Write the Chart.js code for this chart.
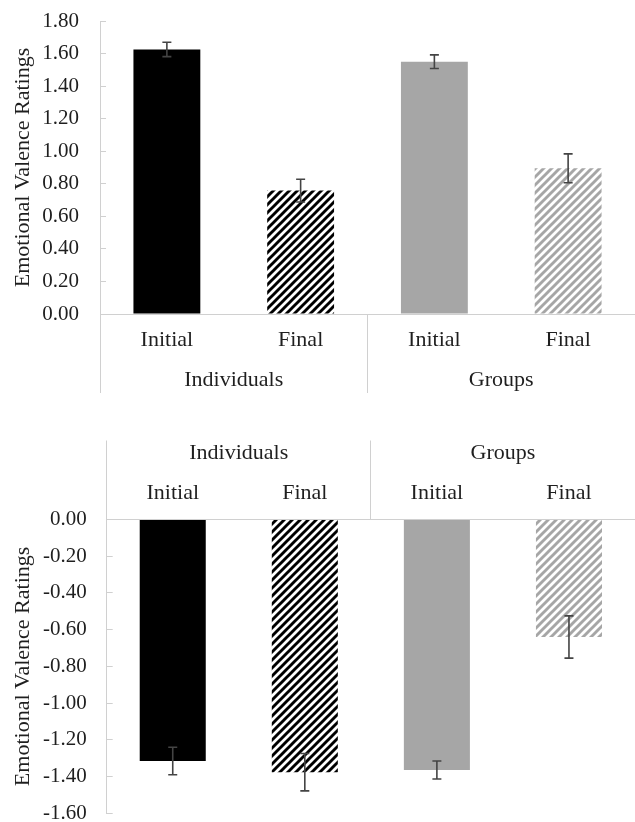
<!DOCTYPE html>
<html>
<head>
<meta charset="utf-8">
<script src="https://cdn.jsdelivr.net/npm/chart.js@4/dist/chart.umd.min.js"></script>
<style>
  html, body { margin: 0; padding: 0; background: #fff; overflow: hidden; }
  #wrap { position: relative; width: 635px; height: 822px; }
  #topChart { position: absolute; left: 0; top: 0; }
  #bottomChart { position: absolute; left: 0; top: 420px; }
</style>
</head>
<body>
<div id="wrap">
  <canvas id="topChart" width="635" height="400"></canvas>
  <canvas id="bottomChart" width="635" height="410"></canvas>
</div>
<script>
const categories = ['Initial', 'Final', 'Initial', 'Final'];
const groups = ['Individuals', 'Groups'];

// positive emotions (top panel)
const positiveMeans = [1.625, 0.758, 1.55, 0.895];
const positiveErrors = [0.044, 0.07, 0.042, 0.089];
const positiveTicks = { min: 0, max: 1.8, step: 0.2 };

// negative emotions (bottom panel)
const negativeMeans = [-1.315, -1.376, -1.364, -0.64];
const negativeErrors = [0.075, 0.102, 0.049, 0.115];
const negativeTicks = { min: -1.6, max: 0, step: 0.2 };

const axisTitle = 'Emotional Valence Ratings';
const fontFamily = '"Liberation Serif", "Times New Roman", serif';
const textColor = '#1f1f1f';
const gridColor = '#d0d0d0';
const errorColor = '#444444';

function hatch(color) {
    const c = document.createElement('canvas');
    c.width = 8;
    c.height = 8;
    const g = c.getContext('2d');
    g.fillStyle = '#ffffff';
    g.fillRect(0, 0, 8, 8);
    g.strokeStyle = color;
    g.lineWidth = 2.9;
    g.beginPath();
    g.moveTo(-2, 10); g.lineTo(10, -2);
    g.moveTo(-2, 2); g.lineTo(2, -2);
    g.moveTo(6, 10); g.lineTo(10, 6);
    g.stroke();
    return g.createPattern(c, 'repeat');
}

const barColors = ['#000000', hatch('#000000'), '#a6a6a6', hatch('#a6a6a6')];

const errorBars = {
    id: 'errorBars',
    afterDatasetsDraw(chart, args, opts) {
        const ctx = chart.ctx;
        const y = chart.scales.y;
        const meta = chart.getDatasetMeta(0);
        const values = chart.data.datasets[0].data;
        ctx.save();
        ctx.strokeStyle = errorColor;
        ctx.lineWidth = 1.6;
        meta.data.forEach((bar, i) => {
            const hi = y.getPixelForValue(values[i] + opts.errors[i]);
            const lo = y.getPixelForValue(values[i] - opts.errors[i]);
            ctx.beginPath();
            ctx.moveTo(bar.x, hi); ctx.lineTo(bar.x, lo);
            ctx.moveTo(bar.x - 4.5, hi); ctx.lineTo(bar.x + 4.5, hi);
            ctx.moveTo(bar.x - 4.5, lo); ctx.lineTo(bar.x + 4.5, lo);
            ctx.stroke();
        });
        ctx.restore();
    }
};

// only the group boundaries get a separator line
function separatorColor(c) {
    return (c.index === undefined || c.index % 2 === 0) ? gridColor : 'rgba(0,0,0,0)';
}

function makeChart(id, means, errors, range, pos, cfg) {
    return new Chart(document.getElementById(id), {
        type: 'bar',
        data: {
            labels: categories,
            datasets: [{
                data: means,
                backgroundColor: barColors,
                borderWidth: 0,
                categoryPercentage: 1,
                barPercentage: 0.5
            }]
        },
        options: {
            responsive: false,
            animation: false,
            layout: { padding: cfg.padding },
            plugins: {
                legend: { display: false },
                tooltip: { enabled: false },
                errorBars: { errors: errors }
            },
            scales: {
                y: {
                    position: 'left',
                    min: range.min,
                    max: range.max,
                    ticks: {
                        stepSize: range.step,
                        padding: cfg.yPad,
                        color: textColor,
                        font: { family: fontFamily, size: 21 },
                        callback: v => v.toFixed(2)
                    },
                    grid: { drawOnChartArea: false, tickLength: -6, color: gridColor },
                    border: { color: gridColor },
                    title: {
                        display: true,
                        text: axisTitle,
                        color: textColor,
                        font: { family: fontFamily, size: 22 },
                        padding: { top: 10, bottom: 0 }
                    },
                    afterFit(s) {
                        s.width = cfg.yWidth;
                        s.paddingTop = 12;
                        s.paddingBottom = 12;
                    }
                },
                x: {
                    type: 'category',
                    position: pos,
                    weight: 0,
                    offset: true,
                    grid: { offset: true, drawOnChartArea: false, tickLength: 79, color: separatorColor },
                    border: { color: gridColor },
                    ticks: {
                        padding: -65.6,
                        color: textColor,
                        maxRotation: 0,
                        font: { family: fontFamily, size: 22 }
                    },
                    afterFit(s) { s.height = 40; }
                },
                x2: {
                    type: 'category',
                    position: pos,
                    weight: 1,
                    labels: groups,
                    offset: true,
                    grid: { display: false, drawTicks: false },
                    border: { display: false },
                    ticks: {
                        padding: 13,
                        color: textColor,
                        maxRotation: 0,
                        font: { family: fontFamily, size: 22 }
                    },
                    afterFit(s) { s.height = cfg.groupHeight; }
                }
            }
        },
        plugins: [errorBars]
    });
}

makeChart('topChart', positiveMeans, positiveErrors, positiveTicks, 'bottom', {
    padding: { top: 21, bottom: 0, left: 0, right: 0 },
    yWidth: 100,
    yPad: 27,
    groupHeight: 46
});

makeChart('bottomChart', negativeMeans, negativeErrors, negativeTicks, 'top', {
    padding: { top: 0, bottom: 16.7, left: 0, right: 0 },
    yWidth: 106.7,
    yPad: 26,
    groupHeight: 59.5
});
</script>
</body>
</html>
